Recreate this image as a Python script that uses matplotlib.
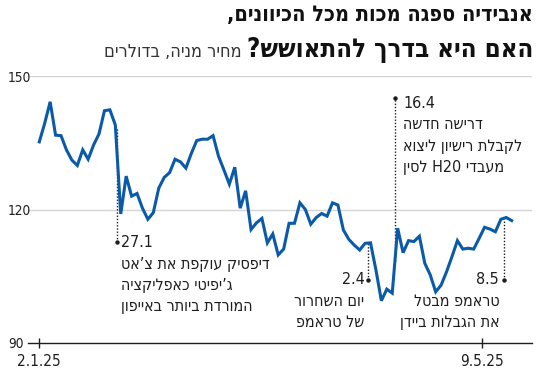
import re

import matplotlib
matplotlib.use("Agg")
import matplotlib.pyplot as plt
import numpy as np
from matplotlib import font_manager

# closing price, one value per trading day, 2.1.25 -> 9.5.25
price = [
    135.2, 139.4, 144.2, 136.7, 136.6, 133.4, 131.1, 129.9, 133.4, 131.3,
    134.5, 137.0, 142.2, 142.4, 139.0, 119.0, 127.5, 123.0, 123.6, 120.3,
    117.8, 119.3, 124.8, 127.2, 128.3, 131.3, 130.7, 129.3, 132.6, 135.5,
    135.8, 135.8, 136.6, 132.0, 128.9, 125.7, 129.5, 120.3, 124.2, 115.5,
    117.0, 118.0, 112.5, 114.5, 109.8, 111.1, 116.9, 116.9, 121.5, 120.0,
    116.7, 118.2, 119.1, 118.5, 121.5, 121.0, 115.4, 113.3, 112.0, 110.9,
    112.4, 112.5, 106.4, 99.5, 102.1, 101.2, 115.8, 110.3, 113.0, 112.8,
    114.0, 107.9, 105.3, 101.5, 103.0, 106.0, 109.4, 113.0, 111.1, 111.3,
    111.1, 113.5, 116.0, 115.6, 115.0, 117.8, 118.2, 117.5,
]
day = np.arange(len(price))

y_ticks = [90, 120, 150]
x_tick_pos = [0, 81.5]
x_tick_labels = ["2.1.25", "9.5.25"]

title_line1 = "אנבידיה ספגה מכות מכל הכיוונים,"
title_line2 = "האם היא בדרך להתאושש?"
subtitle = "מחיר מניה, בדולרים"

# (date, x of the dotted leader, y top, y bottom, dot at, text x, align, text lines)
events = [
    ("27.1", 14.25, 138.6, 112.6, "bottom", 15.0, "left",
     ["דיפסיק עוקפת את צ’אט", "ג’יפיטי כאפליקציה", "המורדת ביותר באייפון"]),
    ("16.4", 65.5, 145.1, 108.5, "top", 67.0, "left",
     ["דרישה חדשה", "לקבלת רישיון ליצוא", "מעבדי H20 לסין"]),
    ("2.4", 60.6, 112.5, 104.2, "bottom", 59.85, "right",
     ["יום השחרור", "של טראמפ"]),
    ("8.5", 85.6, 117.9, 104.2, "bottom", 84.7, "right",
     ["טראמפ מבטל", "את הגבלות ביידן"]),
]

BLUE = "#0b5aa9"
INK = "#1e1e1e"
GRID = "#d4d4d4"


def rtl(s):
    # matplotlib has no bidi support: flip the string, keep latin/digit runs readable
    rev = s[::-1]
    return re.sub(r"[A-Za-z0-9.]+", lambda m: m.group(0)[::-1], rev)


fonts = font_manager.fontManager.ttflist
has_cond = any(f.name == "DejaVu Sans" and "ondensed" in str(f.stretch) + f.fname for f in fonts)
if has_cond:
    body = dict(family="DejaVu Sans", stretch="condensed")
else:
    body = dict(family="Liberation Sans")
head = dict(family="DejaVu Sans", stretch="condensed" if has_cond else "normal", fontweight="bold")

fig = plt.figure(figsize=(5.5, 3.78), dpi=100)
ax = fig.add_axes([28 / 550, 35 / 378, 504 / 550, 267 / 378])

ax.plot(day, price, color=BLUE, linewidth=2.2, solid_joinstyle="miter", zorder=3)

ax.set_xlim(-2.08, 90.74)
ax.set_ylim(90, 150)

ax.set_yticks(y_ticks)
ax.set_yticklabels([str(v) for v in y_ticks], fontsize=9.8, color=INK, ha="left", **body)
ax.tick_params(axis="y", length=0, pad=14.4)
for v in y_ticks[1:]:
    ax.axhline(v, color=GRID, linewidth=1.0, zorder=1)

ax.set_xticks(x_tick_pos)
ax.set_xticklabels(x_tick_labels, fontsize=11, color=INK, **body)
ax.tick_params(axis="x", direction="inout", length=7, width=1, color=INK, pad=4.5)

for side in ["top", "right", "left"]:
    ax.spines[side].set_visible(False)
ax.spines["bottom"].set_color(INK)
ax.spines["bottom"].set_linewidth(1.0)

for date, lx, y_top, y_bot, dot, tx, align, lines in events:
    ax.plot([lx, lx], [y_bot, y_top], color=INK, linewidth=1.0,
            linestyle=(0, (1, 1.3)), zorder=2, clip_on=False)
    ax.plot([lx], [y_bot if dot == "bottom" else y_top], "o", color=INK,
            markersize=2.2, zorder=2, clip_on=False)
    ty = y_bot if dot == "bottom" else y_top - 1.2
    ax.text(tx, ty, date, fontsize=11.5, color=INK,
            ha=align, va="center", clip_on=False, **body)
    for k, line in enumerate(lines):
        ax.text(tx, ty - 4.9 - 4.75 * k, rtl(line), fontsize=11.5,
                color=INK, ha=align, va="center", clip_on=False, **body)

# title block, right aligned like the Hebrew original
fig.text(533 / 550, 1 - 21 / 378, rtl(title_line1), fontsize=15.5,
         color="#111111", ha="right", va="baseline", **head)
t2 = fig.text(533 / 550, 1 - 57 / 378, rtl(title_line2), fontsize=18.5,
              color="#111111", ha="right", va="baseline", **head)
fig.canvas.draw()
bb = t2.get_window_extent()
fig.text((bb.x0 - 5) / 550, 1 - 57 / 378, rtl(subtitle),
         fontsize=13, color="#333333", ha="right", va="baseline", **body)

fig.savefig("out.png", dpi=100)
plt.close(fig)
